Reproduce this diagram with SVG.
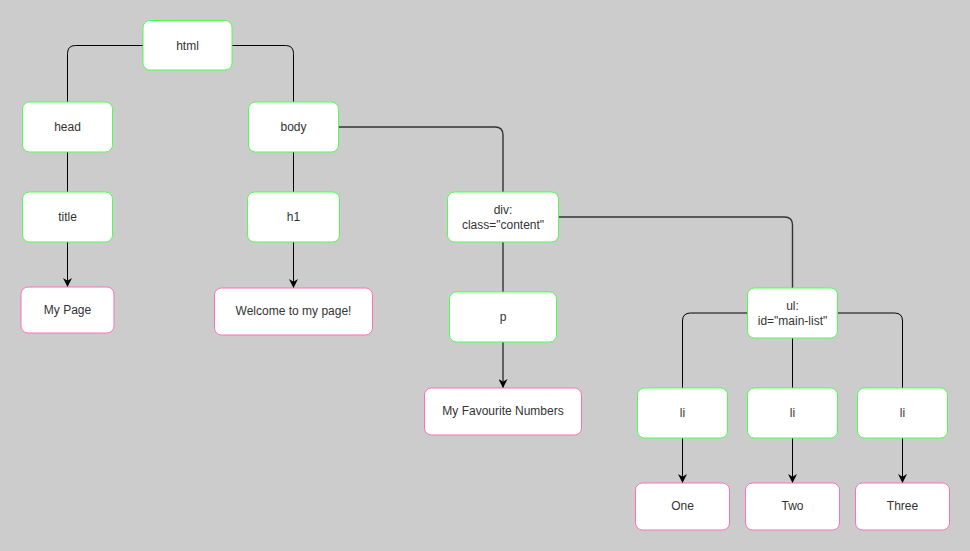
<svg xmlns="http://www.w3.org/2000/svg" width="970" height="551" viewBox="0 0 970 551">
<style>
.bg{fill:#cccccc}
.el rect{fill:#ffffff;stroke:#4dff4d;stroke-width:1}
.tx rect{fill:#ffffff;stroke:#ff6fb7;stroke-width:1}
text{font-family:"Liberation Sans",Arial,sans-serif;font-size:12px;fill:#333333;text-anchor:middle;dominant-baseline:central}
.edges path{fill:none;stroke:#000000;stroke-width:1}
.edges .gr{stroke:#333333;stroke-width:1.4}
</style>
<defs>
<marker id="arr" viewBox="0 0 10 10" refX="10" refY="5" markerWidth="9" markerHeight="9" markerUnits="userSpaceOnUse" orient="auto">
<path d="M0,0 L10,5 L0,10 L3,5 Z" fill="#000000"/>
</marker>
</defs>
<rect class="bg" x="0" y="0" width="970" height="551"/>
<g id="connectors" class="edges">
<path d="M143,45.5 H75.5 Q67.5,45.5 67.5,53.5 V102"/>
<path d="M232,45.5 H285.5 Q293.5,45.5 293.5,53.5 V102"/>
<path d="M67.5,152 V192"/>
<path d="M67.5,242 V287" marker-end="url(#arr)"/>
<path d="M293.5,152 V192"/>
<path d="M293.5,242 V288" marker-end="url(#arr)"/>
<path class="gr" d="M338,127 H495 Q503,127 503,135 V192"/>
<path class="gr" d="M503,242 V292"/>
<path class="gr" d="M503,342 V388" marker-end="url(#arr)"/>
<path class="gr" d="M558,217 H784.5 Q792.5,217 792.5,225 V288"/>
<path d="M747,313 H690.5 Q682.5,313 682.5,321 V388"/>
<path d="M792.5,338 V388"/>
<path d="M837,313 H894.5 Q902.5,313 902.5,321 V388"/>
<path d="M682.5,438 V483" marker-end="url(#arr)"/>
<path d="M792.5,438 V483" marker-end="url(#arr)"/>
<path d="M902.5,438 V483" marker-end="url(#arr)"/>
</g>
<g id="html" class="el"><rect x="143" y="20.5" width="89" height="49.5" rx="7"/><text x="187.5" y="45.5">html</text></g>
<g id="head" class="el"><rect x="22.5" y="102" width="90" height="50" rx="7"/><text x="67.5" y="127">head</text></g>
<g id="body" class="el"><rect x="248.5" y="102" width="90" height="50" rx="7"/><text x="293.5" y="127">body</text></g>
<g id="title" class="el"><rect x="22.5" y="192" width="90" height="50" rx="7"/><text x="67.5" y="217">title</text></g>
<g id="h1" class="el"><rect x="247.5" y="192" width="92" height="50" rx="7"/><text x="293.5" y="217">h1</text></g>
<g id="div" class="el"><rect x="447.5" y="192" width="111" height="50" rx="7"/><text x="503" y="210">div:</text><text x="503" y="225">class="content"</text></g>
<g id="p" class="el"><rect x="449.5" y="292" width="107" height="50" rx="7"/><text x="503" y="317">p</text></g>
<g id="ul" class="el"><rect x="747.5" y="288" width="90" height="50" rx="7"/><text x="792.5" y="306">ul:</text><text x="792.5" y="321">id="main-list"</text></g>
<g id="li1" class="el"><rect x="637.5" y="388" width="90" height="50" rx="7"/><text x="682.5" y="413">li</text></g>
<g id="li2" class="el"><rect x="747.5" y="388" width="90" height="50" rx="7"/><text x="792.5" y="413">li</text></g>
<g id="li3" class="el"><rect x="857.5" y="388" width="90" height="50" rx="7"/><text x="902.5" y="413">li</text></g>
<g id="mypage" class="tx"><rect x="21" y="287" width="93" height="46" rx="7"/><text x="67.5" y="310">My Page</text></g>
<g id="welcome" class="tx"><rect x="214.5" y="288" width="158" height="47" rx="7"/><text x="293.5" y="311">Welcome to my page!</text></g>
<g id="favnum" class="tx"><rect x="424.5" y="388" width="157" height="47" rx="7"/><text x="503" y="411">My Favourite Numbers</text></g>
<g id="one" class="tx"><rect x="635.5" y="483" width="94" height="47" rx="7"/><text x="682.5" y="506">One</text></g>
<g id="two" class="tx"><rect x="745.5" y="483" width="94" height="47" rx="7"/><text x="792.5" y="506">Two</text></g>
<g id="three" class="tx"><rect x="855.5" y="483" width="94" height="47" rx="7"/><text x="902.5" y="506">Three</text></g>
</svg>
